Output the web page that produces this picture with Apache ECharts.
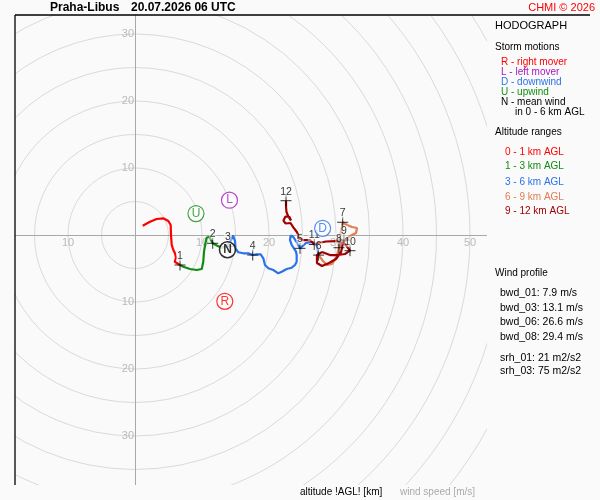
<!DOCTYPE html>
<html><head><meta charset="utf-8">
<script src="https://cdn.jsdelivr.net/npm/echarts@6/dist/echarts.min.js"></script>
<style>html,body{margin:0;padding:0;background:#fafafa}#c{width:600px;height:500px}</style>
</head><body><div id="c"></div>
<script>
// ---- data (wind components u,v in m/s) ----
const layer0to1 = [[1.15,1.39],[2.24,1.99],[3.24,2.39],[4.22,2.49],[4.97,2.09],[5.33,1.49],[5.37,0.0],[5.48,-1.49],[5.72,-2.24],[5.97,-2.73],[6.12,-3.39],[5.93,-3.99],[6.22,-4.22],[6.72,-4.48]];
const layer1to3 = [[6.72,-4.48],[7.21,-4.73],[8.21,-5.07],[9.21,-5.22],[9.96,-5.07],[10.19,-3.99],[10.30,-2.49],[10.55,-1.00],[10.70,-0.40],[11.09,-0.25],[11.30,-0.49],[11.60,-1.24],[12.28,-1.60],[12.94,-1.90],[13.88,-1.72]];
const layer3to6 = [[13.88,-1.72],[14.63,-0.07],[14.93,-0.90],[15.00,-1.99],[15.42,-2.58],[16.16,-2.73],[16.91,-2.73],[17.57,-2.99],[18.16,-2.88],[18.76,-2.88],[19.15,-3.48],[19.40,-4.48],[19.90,-4.97],[20.64,-5.22],[21.39,-5.72],[21.90,-5.48],[22.64,-5.07],[23.39,-4.88],[23.88,-4.48],[24.13,-3.99],[24.13,-2.99],[24.03,-2.49],[23.39,-1.49],[23.13,-0.75],[23.24,-0.07],[23.63,-0.30],[24.03,-0.90],[24.63,-1.99],[25.52,-1.19],[26.42,-1.04],[27.16,-1.64],[27.31,-2.54],[27.40,-3.00]];
const layer6to9 = [[27.40,-3.00],[28.06,-3.88],[28.66,-4.48],[29.40,-4.33],[30.00,-3.43],[30.37,-2.24],[30.60,-0.45],[31.00,1.90],[31.64,1.49],[32.39,1.19],[33.13,1.04],[32.99,0.30],[32.09,-0.15],[31.19,-1.04],[30.45,-1.90],[30.90,-1.34],[31.19,-0.75]];
const layer9to12 = [[31.19,-0.75],[30.75,-2.54],[30.00,-3.58],[28.96,-4.18],[27.91,-4.63],[27.16,-4.18],[27.16,-2.99],[27.91,-2.54],[29.10,-2.99],[30.30,-2.99],[31.34,-2.84],[32.09,-2.34],[31.34,-1.34],[30.00,-0.90],[28.51,-0.97],[27.31,-1.19],[26.76,-1.42],[26.12,-0.75],[25.12,-0.75],[24.37,-0.49],[24.37,0.0],[24.13,0.49],[23.63,1.15],[23.21,1.79],[22.46,1.72],[22.16,2.16],[22.46,2.76],[23.06,2.69],[23.28,2.16],[22.84,2.84],[22.61,3.43],[22.54,4.18],[22.54,5.12]];

const heightLabels = ['1','2','3','4','5','6','7','8','9','10','11','12'];
const heightU = [6.72,11.60,13.88,17.57,24.63,27.40,31.00,30.45,31.19,32.09,26.76,22.54];
const heightV = [-4.48,-1.24,-1.72,-2.99,-1.99,-3.00,1.90,-1.90,-0.75,-2.34,-1.42,5.12];

const stormLabels = ['R','L','D','U','N'];
const stormU = [13.4,14.1,28.0,9.1,13.8];
const stormV = [-9.9,5.2,1.0,3.2,-2.2];

const xTickValues = [-10,10,20,30,40,50];
const yTickValues = [-30,-20,-10,10,20,30];
const ringStep = 5, ringMax = 60;

const stormLegend = ['R - right mover','L - left mover','D - downwind','U - upwind','N - mean wind'];
const layerLegend = ['0 - 1 km AGL','1 - 3 km AGL','3 - 6 km AGL','6 - 9 km AGL','9 - 12 km AGL'];
const profileNames = ['bwd_01','bwd_03','bwd_06','bwd_08','srh_01','srh_03'];
const profileValues = ['7.9 m/s','13.1 m/s','26.6 m/s','29.4 m/s','21 m2/s2','75 m2/s2'];

// ---- styles / layout ----
const K = 6.7;             // px per m/s
const OX = 135, OY = 235;  // origin px
const GL = 15, GT = 15, GR = 487, GB = 485;
const BG = '#fafafa';
const layerColors = ['#ff0000','#138a13','#2a72ea','#dd7e55','#a00000'];
const stormColors = ['#ff0000','#a818c0','#2a72ea','#139013','#000000'];
const FONT = '"Liberation Sans", Arial, sans-serif';
const TICK_COLOR = '#aaaaaa';

const chart = echarts.init(document.getElementById('c'), null, {renderer:'canvas'});

const layers = [layer0to1, layer1to3, layer3to6, layer6to9, layer9to12];
const lineSeries = layers.map((d,i)=>({
  type:'line', data:d, showSymbol:false, symbol:'none', smooth:false,
  lineStyle:{color:layerColors[i], width:2.2}, z:3+i, clip:true, silent:true
}));

const heightData = heightLabels.map((l,i)=>({name:l, value:[heightU[i],heightV[i]]}));
const stormData = stormLabels.map((l,i)=>({
  name:l, value:[stormU[i],stormV[i]],
  itemStyle:{color:'#ffffff', borderColor:stormColors[i], borderWidth: l==='N' ? 1.6 : 1.2},
  label:{color:stormColors[i], fontWeight: l==='N' ? 'bold':'normal'}
}));
const xTickData = xTickValues.map(v=>({name:String(Math.abs(v)), value:[v,0]}));
const yTickData = yTickValues.map(v=>({name:String(Math.abs(v)), value:[0,v]}));

const texts = [];
function txt(x,y,t,fill,size,weight,align){
  texts.push({type:'text', x:x, y:y, z:120, silent:true,
    style:{text:t, fill:fill, font:(weight||'normal')+' '+size+'px '+FONT, align:align||'left', verticalAlign:'middle'}});
}
txt(50,8,'Praha-Libus','#000',12,'bold');
txt(131,8,'20.07.2026 06 UTC','#000',12,'bold');
txt(595,8,'CHMI \u00a9 2026','#ff0000',11,'normal','right');
txt(495,26,'HODOGRAPH','#000',11);
txt(495,47,'Storm motions','#000',10);
const stormLegendY = [62,72,82,92,102];
stormLegend.forEach((t,i)=>txt(501,stormLegendY[i],t,stormColors[i],10));
txt(515,112,'in 0 - 6 km AGL','#000',10);
txt(495,132,'Altitude ranges','#000',10);
const layerLegendY = [152,166.5,182,197,211.5];
layerLegend.forEach((t,i)=>txt(505,layerLegendY[i],t,layerColors[i],10));
txt(495,273,'Wind profile','#000',10);
const profileY = [293,308,322.5,337,358,371.5];
profileNames.forEach((n,i)=>txt(500,profileY[i],n+': '+profileValues[i],'#000',10.5));
txt(300,492,'altitude !AGL! [km]','#000',10);
txt(400,492,'wind speed [m/s]','#aaaaaa',10);

const covers = [
  {x:0,y:0,w:GL,h:500},{x:0,y:0,w:600,h:GT},{x:GR,y:GT,w:600-GR,h:500},{x:0,y:GB,w:600,h:500-GB}
].map(r=>({type:'rect', z:100, silent:true, shape:{x:r.x,y:r.y,width:r.w,height:r.h}, style:{fill:BG}}));
const borders = [
  {type:'line', z:110, silent:true, shape:{x1:GL,y1:GT,x2:590,y2:GT}, style:{stroke:'#000', lineWidth:1.3}},
  {type:'line', z:110, silent:true, shape:{x1:GL,y1:GT,x2:GL,y2:GB}, style:{stroke:'#000', lineWidth:1.3}}
];

chart.setOption({
  animation:false,
  backgroundColor:BG,
  grid:{left:GL, top:GT, width:GR-GL, height:GB-GT, show:false, containLabel:false, outerBoundsMode:'none'},
  xAxis:{type:'value', min:-(OX-GL)/K, max:(GR-OX)/K,
    axisLine:{onZero:true, lineStyle:{color:'#a8a8a8', width:1}},
    axisTick:{show:false}, splitLine:{show:false}, axisLabel:{show:false}},
  yAxis:{type:'value', min:-(GB-OY)/K, max:(OY-GT)/K,
    axisLine:{onZero:true, lineStyle:{color:'#a8a8a8', width:1}},
    axisTick:{show:false}, splitLine:{show:false}, axisLabel:{show:false}},
  polar:{center:[OX,OY], radius:ringMax*K},
  angleAxis:{show:false, min:0, max:360},
  radiusAxis:{min:0, max:ringMax, interval:ringStep, z:0,
    axisLine:{show:false}, axisTick:{show:false}, axisLabel:{show:false},
    splitLine:{show:true, lineStyle:{color:'#dadada', width:1}}},
  graphic:{elements:covers.concat(borders, texts)},
  series: lineSeries.concat([
    {type:'scatter', name:'xticks', data:xTickData, symbolSize:0, z:2, silent:true,
     label:{show:true, formatter:'{b}', position:'bottom', distance:2, color:TICK_COLOR, fontSize:11, fontFamily:FONT}},
    {type:'scatter', name:'yticks', data:yTickData, symbolSize:0, z:2, silent:true,
     label:{show:true, formatter:'{b}', position:'left', distance:1, color:TICK_COLOR, fontSize:11, fontFamily:FONT}},
    {type:'scatter', data:heightData, symbol:'path://M6,0L6,12M0,6L12,6', symbolSize:11, z:10, silent:true,
     itemStyle:{color:'rgba(0,0,0,0)', borderColor:'#000', borderWidth:1},
     label:{show:true, formatter:'{b}', position:'inside', offset:[0,-9], color:'#000', fontSize:10.5, fontFamily:FONT,
            backgroundColor:'rgba(255,255,255,0.55)', padding:[0,1]}},
    {type:'scatter', data:stormData, symbol:'circle', symbolSize:16, z:12, silent:true,
     label:{show:true, formatter:'{b}', position:'inside', fontSize:12, fontFamily:FONT}}
  ])
});
</script></body></html>
